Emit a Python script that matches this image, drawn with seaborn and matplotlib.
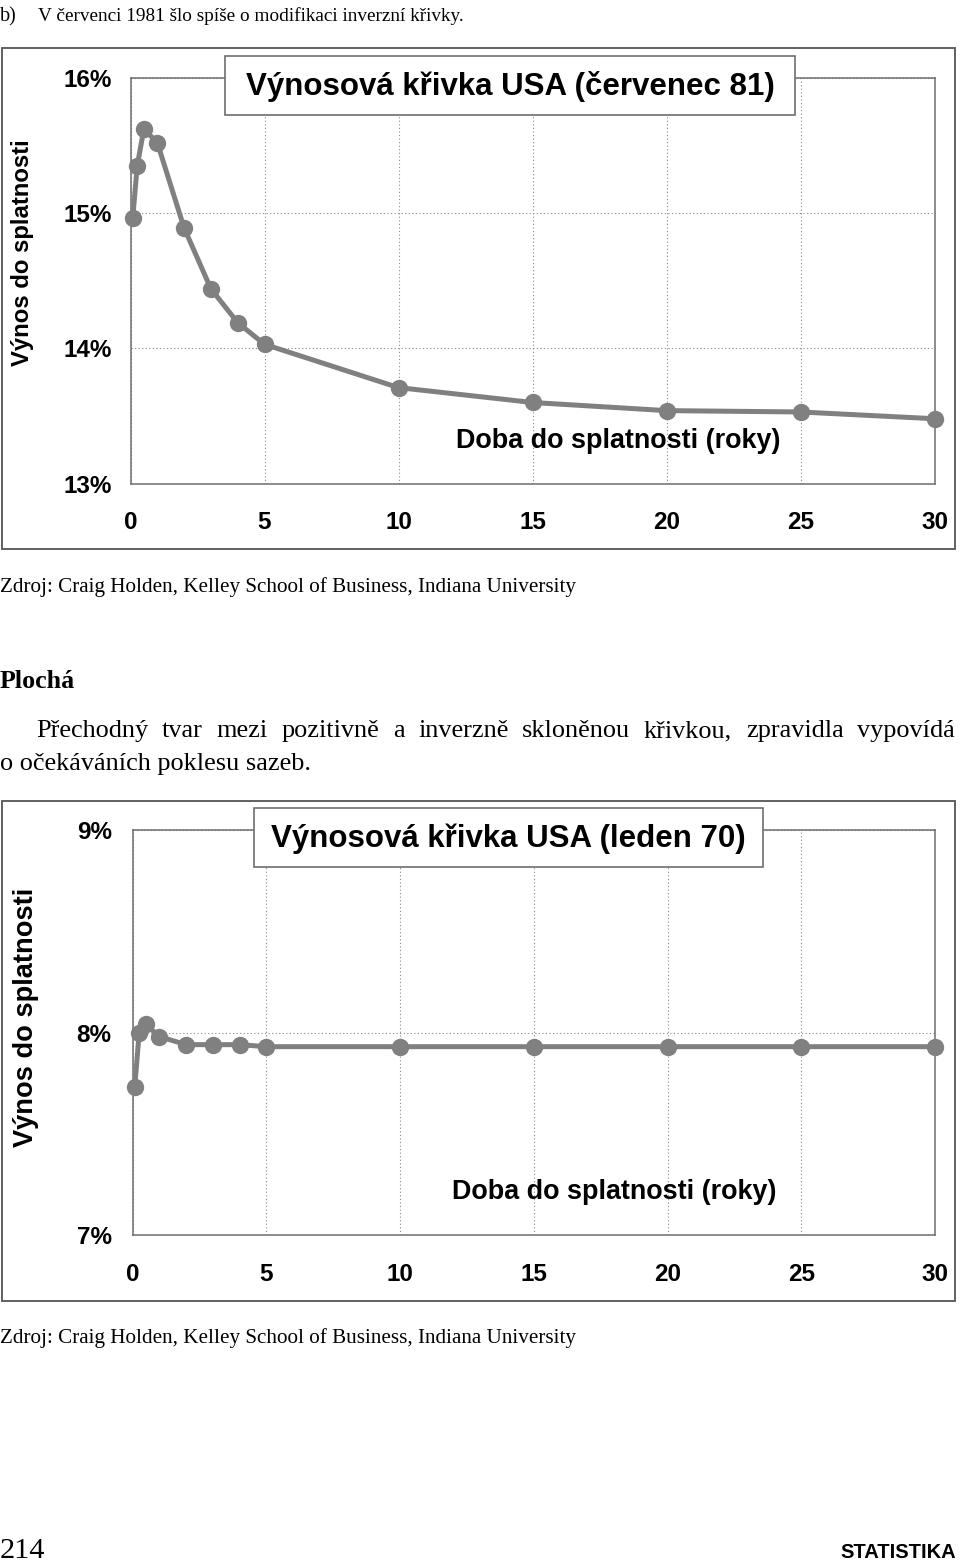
import matplotlib
matplotlib.use("Agg")
import matplotlib.pyplot as plt
import seaborn as sns
import pandas as pd
from matplotlib.patches import Rectangle
from matplotlib.ticker import FuncFormatter
from matplotlib import font_manager

# ---------------- data ----------------
maturity_years = [1/12, 0.25, 0.5, 1, 2, 3, 4, 5, 10, 15, 20, 25, 30]
yield_jul81 = [14.96, 15.35, 15.62, 15.52, 14.89, 14.44, 14.19, 14.03, 13.71, 13.60, 13.54, 13.53, 13.48]
yield_jan70 = [7.73, 8.00, 8.04, 7.98, 7.94, 7.94, 7.94, 7.93, 7.93, 7.93, 7.93, 7.93, 7.93]
x_ticks = [0, 5, 10, 15, 20, 25, 30]
y_ticks_jul81 = [13, 14, 15, 16]
y_ticks_jan70 = [7, 8, 9]

title_jul81 = "Výnosová křivka USA (červenec 81)"
title_jan70 = "Výnosová křivka USA (leden 70)"
xlabel = "Doba do splatnosti (roky)"
ylabel = "Výnos do splatnosti"
source = "Zdroj: Craig Holden, Kelley School of Business, Indiana University"

# ---------------- style ----------------
sns.set_style("white")
plt.rcParams["font.family"] = ["Liberation Sans", "DejaVu Sans"]
plt.rcParams["text.color"] = "black"
plt.rcParams["axes.labelcolor"] = "black"
plt.rcParams["xtick.color"] = "black"
plt.rcParams["ytick.color"] = "black"

W, H = 960, 1561
fig = plt.figure(figsize=(W / 100, H / 100), dpi=100)
fig.patch.set_facecolor("white")
renderer = fig.canvas.get_renderer()

def fx(x):
    return x / W

def fy(y):
    return 1 - y / H

def rect(l, r, t, b):
    return [fx(l), fy(b), (r - l) / W, (b - t) / H]

GRAY = "#808080"
SPINE = "#6e6e6e"
SANS = ["Liberation Sans", "DejaVu Sans"]
SERIF = "Liberation Serif"

names = {f.name for f in font_manager.fontManager.ttflist}
NARROW = ["Liberation Sans Narrow"] if "Liberation Sans Narrow" in names else ["Liberation Sans"]


def fit_text(x, y, s, width_px, **kw):
    t = fig.text(fx(x), fy(y), s, fontsize=10, color="black", **kw)
    w = t.get_window_extent(renderer).width
    t.set_fontsize(10 * width_px / w)
    return t


def draw_chart(axrect, frame, yvals, yticks, title, title_box, xl_pos, yl_pos, yl_len, ypad):
    l, r, t, b = frame
    fig.add_artist(Rectangle((fx(l), fy(b)), (r - l) / W, (b - t) / H, transform=fig.transFigure,
                             fill=False, ec="#555555", lw=1.3, zorder=1))
    ax = fig.add_axes(axrect)
    df = pd.DataFrame({"maturity": maturity_years, "yield": yvals})
    sns.lineplot(data=df, x="maturity", y="yield", ax=ax, color=GRAY, linewidth=3.6,
                 marker="o", markersize=12.5, markeredgewidth=0, markerfacecolor=GRAY,
                 clip_on=False, zorder=5)
    ax.set_xlim(0, 30)
    ax.set_ylim(yticks[0], yticks[-1])
    ax.set_xticks(x_ticks)
    ax.set_yticks(yticks)
    ax.yaxis.set_major_formatter(FuncFormatter(lambda v, _: f"{v:.0f}%"))
    ax.set_xlabel("")
    ax.set_ylabel("")
    ax.grid(True, linestyle=(0, (1, 2.2)), color="#8a8a8a", linewidth=0.8)
    ax.set_axisbelow(True)
    for sp in ax.spines.values():
        sp.set_visible(True)
        sp.set_color(SPINE)
        sp.set_linewidth(1.1)
    ax.tick_params(axis="x", direction="inout", length=13, width=1.1, color=SPINE, pad=13.5,
                   labelsize=17.5, labelcolor="black")
    ax.tick_params(axis="y", direction="out", length=6, width=1.1, color=SPINE, pad=ypad,
                   labelsize=17.5, labelcolor="black")
    for lab in ax.get_xticklabels() + ax.get_yticklabels():
        lab.set_fontweight("bold")
    bl, br, bt, bb = title_box
    fig.add_artist(Rectangle((fx(bl), fy(bb)), (br - bl) / W, (bb - bt) / H, transform=fig.transFigure,
                             fc="white", ec=SPINE, lw=1.2, zorder=6))
    fig.text(fx((bl + br) / 2), fy((bt + bb) / 2 + 1), title, fontsize=22.5, fontweight="bold",
             ha="center", va="center", family=SANS, color="black", zorder=7)
    fig.text(fx(xl_pos[0]), fy(xl_pos[1]), xlabel, fontsize=19.4, fontweight="bold",
             ha="right", va="center", family=SANS, color="black", zorder=7)
    t = fit_text(yl_pos[0], yl_pos[1], ylabel, yl_len, fontweight="bold", ha="center",
                 va="center", family=SANS)
    t.set_rotation(90)
    return ax


draw_chart(rect(130.5, 934.5, 77.7, 483.7), (2, 955, 48, 549), yield_jul81, y_ticks_jul81,
           title_jul81, (225, 795, 56, 115), (780, 441), (23, 253), 227, 7.6)
draw_chart(rect(132.5, 935, 830, 1235), (2, 955, 801, 1301), yield_jan70, y_ticks_jan70,
           title_jan70, (254, 763, 808, 867), (777, 1192), (26, 1017), 259, 9.0)

# ---------------- page text ----------------
fig.text(fx(0), fy(21), "b)", fontsize=14.5, family=SERIF, va="baseline", ha="left", color="black")
fit_text(38, 21, "V červenci 1981 šlo spíše o modifikaci inverzní křivky.", 427,
         family=SERIF, va="baseline", ha="left")
fit_text(0, 592, source, 575, family=SERIF, va="baseline", ha="left")
fit_text(0, 1343, source, 575, family=SERIF, va="baseline", ha="left")
fit_text(0, 688, "Plochá", 75, family=SERIF, fontweight="bold", va="baseline", ha="left")

# justified first paragraph line
line1 = "Přechodný tvar mezi pozitivně a inverzně skloněnou křivkou, zpravidla vypovídá".split()
para_fs = 18.9
words = []
total = 0
for wtxt in line1:
    t = fig.text(0, 0, wtxt, fontsize=para_fs, family=SERIF, va="baseline", ha="left", color="black")
    w = t.get_window_extent(renderer).width
    words.append((t, w))
    total += w
gap = (955 - 36 - total) / (len(words) - 1)
xpos = 36
for t, w in words:
    t.set_position((fx(xpos), fy(737)))
    xpos += w + gap
fig.text(fx(0), fy(770), "o očekáváních poklesu sazeb.", fontsize=para_fs, family=SERIF,
         va="baseline", ha="left", color="black")

fit_text(0, 1558, "214", 46, family=SERIF, va="baseline", ha="left")
fit_text(840, 1558, "STATISTIKA", 115, family=NARROW, fontweight="bold", va="baseline", ha="left")

fig.savefig("out.png", dpi=100, facecolor="white")
